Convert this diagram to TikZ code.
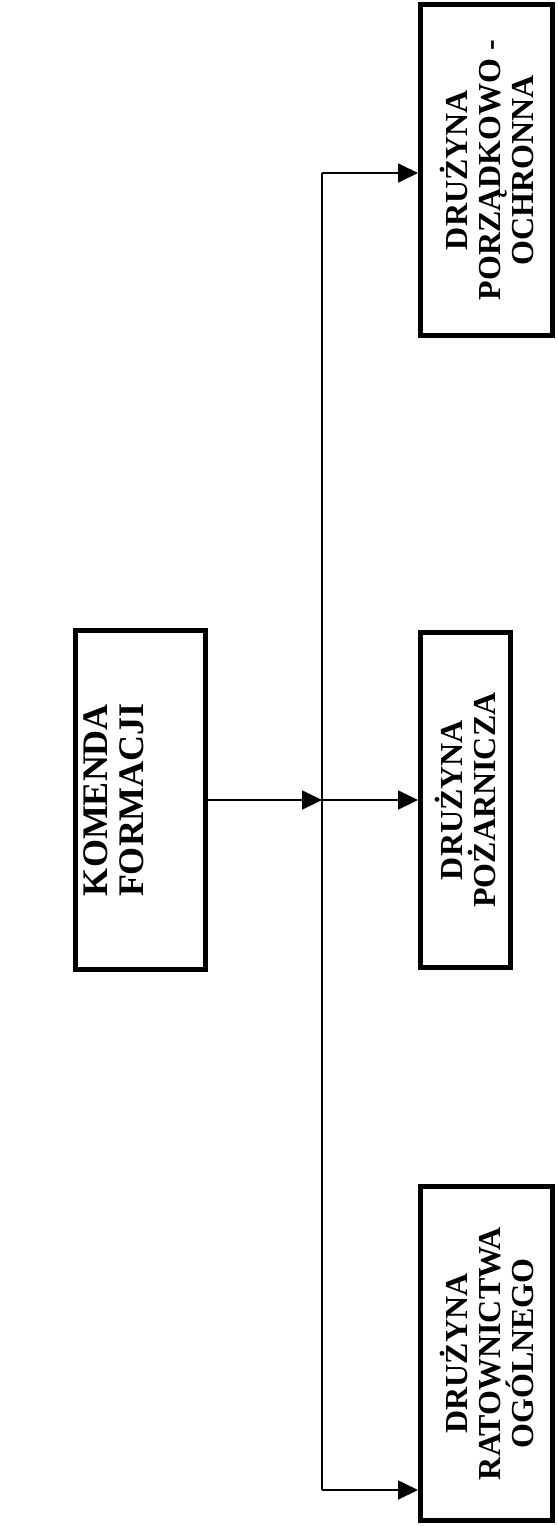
\documentclass[tikz,border=0pt]{standalone}
\usepackage{fontspec}
\setmainfont{Liberation Serif}
\usetikzlibrary{arrows.meta}
\tikzset{
  unitbox/.style={draw, line width=5pt, rotate=90, align=center, inner sep=0pt,
    font=\fontsize{32}{33}\selectfont\bfseries},
}
\begin{document}
\begin{tikzpicture}[x=1pt, y=-1pt, >={Triangle[length=20pt,width=19pt]}, line width=1.8pt]
	\useasboundingbox (0,0) rectangle (557,1526);
	\node[unitbox, minimum width=339pt, minimum height=130pt,
		font=\fontsize{36}{36}\selectfont\bfseries] (komenda) at (140,800) {KOMENDA\\FORMACJI\\[16pt]\mbox{}};
	\node[unitbox, minimum width=331pt, minimum height=132pt] (porzadkowo) at (486.5,170) {DRUŻYNA\\PORZĄDKOWO -\\OCHRONNA};
	\node[unitbox, minimum width=335pt, minimum height=90pt] (pozarnicza) at (465.5,800) {DRUŻYNA\\POŻARNICZA};
	\node[unitbox, minimum width=334pt, minimum height=132pt] (ratownictwa) at (486.5,1353.5) {DRUŻYNA\\RATOWNICTWA\\OGÓLNEGO};
	\coordinate (hub)     at (322,800);
	\coordinate (hub_top) at (322,173);
	\coordinate (hub_bot) at (322,1490);
	\draw[->] (komenda) -- (hub);
	\draw[->] (hub) -- (pozarnicza);
	\draw (hub_top) -- (hub_bot);
	\draw[->] (hub_top) -- (hub_top -| porzadkowo.north);
	\draw[->] (hub_bot) -- (hub_bot -| ratownictwa.north);
\end{tikzpicture}
\end{document}
